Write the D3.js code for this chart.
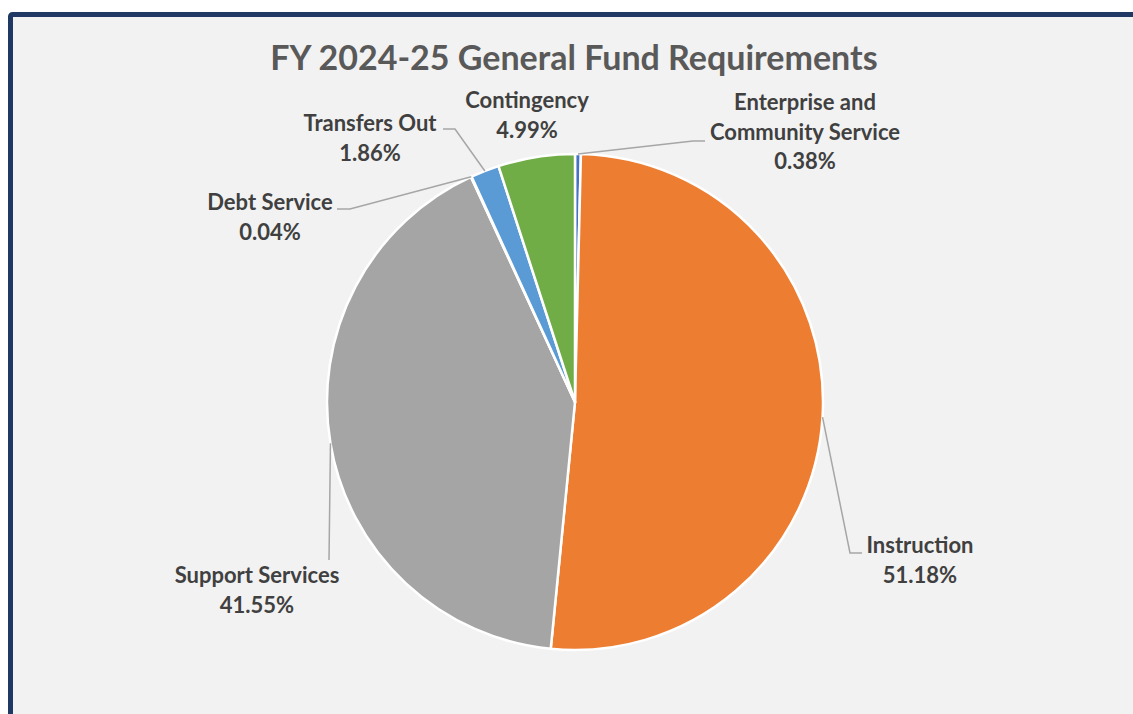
<!DOCTYPE html>
<html>
<head>
<meta charset="utf-8">
<script src="https://cdn.jsdelivr.net/npm/d3@7"></script>
<style>
  html, body { margin: 0; padding: 0; background: #ffffff; }
  svg { display: block; }
  .title { font-family: Lato, "Open Sans", sans-serif; font-weight: bold; fill: #595959; }
  .label { font-family: Lato, "Open Sans", sans-serif; font-weight: bold; fill: #404040; }
</style>
</head>
<body>
<svg width="1133" height="714"></svg>
<script>
// chart data
const titleText = 'FY 2024-25 General Fund Requirements';
const categories = ['Enterprise and Community Service', 'Instruction', 'Support Services',
                    'Debt Service', 'Transfers Out', 'Contingency'];
const shares = [0.38, 51.18, 41.55, 0.04, 1.86, 4.99];
const colors = ['#4472c4', '#ed7d31', '#a5a5a5', '#ffc000', '#5b9bd5', '#70ad47'];

// label placement (text lines, anchor centre, first baseline, leader elbow + end)
const labelLayout = {
    'Enterprise and Community Service': { lines: ['Enterprise and', 'Community Service'], x: 805, y: 110, leader: [[693, 141], [705, 141]] },
    'Instruction': { lines: ['Instruction'], x: 920, y: 553, leader: [[850, 553], [862, 553]] },
    'Support Services': { lines: ['Support Services'], x: 257, y: 583, leader: [[329, 560]] },
    'Debt Service': { lines: ['Debt Service'], x: 270, y: 210, leader: [[350, 209], [337, 209]] },
    'Transfers Out': { lines: ['Transfers Out'], x: 370, y: 131, leader: [[455, 129], [443, 129]] },
    'Contingency': { lines: ['Contingency'], x: 527, y: 108, leader: null }
};

const svg = d3.select('svg');
const width = +svg.attr('width');
const height = +svg.attr('height');

// frame
svg.append('rect')
    .attr('x', 10.5)
    .attr('y', 14.5)
    .attr('width', width + 20)
    .attr('height', height + 20)
    .attr('rx', 2)
    .attr('fill', '#f2f2f2')
    .attr('stroke', '#1f3864')
    .attr('stroke-width', 5);

svg.append('text')
    .attr('class', 'title')
    .attr('x', 574)
    .attr('y', 70)
    .attr('text-anchor', 'middle')
    .style('font-size', '34px')
    .text(titleText);

const cx = 575, cy = 402, radius = 248;
const data = categories.map((c, i) => ({ name: c, value: shares[i], color: colors[i] }));

const pie = d3.pie().sort(null).value(d => d.value);
const arc = d3.arc().innerRadius(0).outerRadius(radius);
const edge = d3.arc().innerRadius(radius).outerRadius(radius);

const g = svg.append('g')
    .attr('transform', `translate(${cx},${cy})`);

const arcs = pie(data);

g.selectAll('path.slice')
    .data(arcs)
    .enter()
    .append('path')
    .attr('class', 'slice')
    .attr('d', arc)
    .attr('fill', d => d.data.color)
    .attr('stroke', '#ffffff')
    .attr('stroke-width', 2.5)
    .attr('stroke-linejoin', 'round');

// leader lines
const line = d3.line();
arcs.forEach(d => {
    const lay = labelLayout[d.data.name];
    if (!lay.leader) return;
    const start = edge.centroid(d);
    const pts = [start].concat(lay.leader.map(p => [p[0] - cx, p[1] - cy]));
    g.append('path')
        .attr('d', line(pts))
        .attr('fill', 'none')
        .attr('stroke', '#a6a6a6')
        .attr('stroke-width', 1.5);
});

// labels
arcs.forEach(d => {
    const lay = labelLayout[d.data.name];
    const lines = lay.lines.concat([d.data.value.toFixed(2) + '%']);
    const t = svg.append('text')
        .attr('class', 'label')
        .attr('text-anchor', 'middle')
        .style('font-size', '22px');
    lines.forEach((s, i) => {
        t.append('tspan')
            .attr('x', lay.x)
            .attr('y', lay.y + i * 29.5)
            .text(s);
    });
});
</script>
</body>
</html>
